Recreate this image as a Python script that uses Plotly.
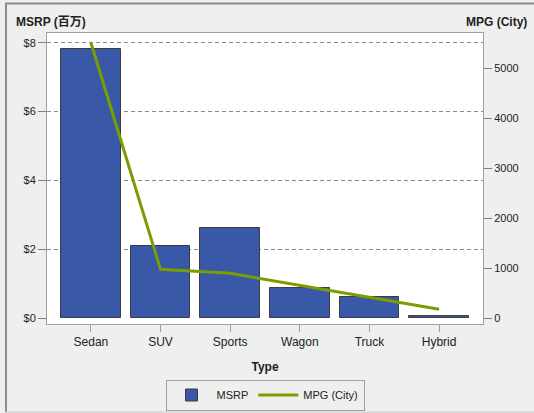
import plotly.graph_objects as go

# Vehicle types with average MSRP (millions) and summed city MPG
types = ["Sedan", "SUV", "Sports", "Wagon", "Truck", "Hybrid"]
msrp_millions = [7.81, 2.11, 2.62, 0.89, 0.63, 0.07]
mpg_city = [5510, 980, 900, 665, 420, 180]

msrp_ticks = [0, 2, 4, 6, 8]
msrp_tick_text = ["$0", "$2", "$4", "$6", "$8"]
mpg_ticks = [0, 1000, 2000, 3000, 4000, 5000]

W, H = 534, 413
ML, MR, MT, MB = 47, 51, 33, 89
PW, PH = W - ML - MR, H - MT - MB

def px_x(x):
    return (x - ML) / PW

def px_y(y):
    return 1 - (y - MT) / PH

FONT = "Liberation Sans, Noto Sans CJK JP, sans-serif"
AXIS_GREY = "#a0a0a0"

fig = go.Figure()
fig.add_trace(go.Bar(
    x=types, y=msrp_millions, name="MSRP", width=0.86,
    marker=dict(color="#3a58a8", line=dict(color="#3c3c3c", width=1)),
    yaxis="y",
))
fig.add_trace(go.Scatter(
    x=types, y=mpg_city, name="MPG (City)", mode="lines",
    line=dict(color="#7a9e02", width=3),
    yaxis="y2",
))

fig.update_layout(
    width=W, height=H,
    margin=dict(l=ML, r=MR, t=MT, b=MB, pad=0, autoexpand=False),
    paper_bgcolor="#efefef",
    plot_bgcolor="white",
    font=dict(family=FONT, size=11, color="#222"),
    bargap=0,
    xaxis=dict(
        range=[-0.63, 5.63], showgrid=False,
        ticks="outside", ticklen=7, tickcolor=AXIS_GREY,
        showline=True, linecolor=AXIS_GREY, mirror=True,
        tickfont=dict(size=12),
        title=dict(text="<b>Type</b>", font=dict(size=12), standoff=14),
    ),
    yaxis=dict(
        range=[-0.165, 8.28], tickvals=msrp_ticks, ticktext=msrp_tick_text,
        ticks="outside", ticklen=8, tickcolor="#808080",
        showgrid=True, gridcolor="#8a8a8a", griddash="4px,3px", gridwidth=1,
        zeroline=True, zerolinecolor="rgba(0,0,0,0)",
        showline=True, linecolor=AXIS_GREY,
        tickfont=dict(size=11),
    ),
    yaxis2=dict(
        overlaying="y", side="right",
        range=[-114, 5706], tickvals=mpg_ticks,
        ticks="outside", ticklen=8, tickcolor="#808080",
        showgrid=False, zeroline=False,
        showline=True, linecolor=AXIS_GREY,
        tickfont=dict(size=11),
    ),
    showlegend=True,
    legend=dict(
        orientation="h", x=0.5, xanchor="center",
        y=px_y(395), yanchor="middle",
        bgcolor="#efefef", bordercolor=AXIS_GREY, borderwidth=1,
        font=dict(size=11), itemwidth=40,
    ),
    annotations=[
        dict(text="<b>MSRP (百万)</b>", x=px_x(14), y=px_y(22),
             xref="paper", yref="paper", xanchor="left", yanchor="middle",
             showarrow=False, font=dict(size=12)),
        dict(text="<b>MPG (City)</b>", x=px_x(529), y=px_y(22),
             xref="paper", yref="paper", xanchor="right", yanchor="middle",
             showarrow=False, font=dict(size=12)),
    ],
    shapes=[
        dict(type="line", xref="paper", yref="paper",
             x0=px_x(6), x1=px_x(6), y0=px_y(3), y1=px_y(412),
             line=dict(color="#8c8c8c", width=2)),
        dict(type="line", xref="paper", yref="paper",
             x0=px_x(5), x1=px_x(534), y0=px_y(3.5), y1=px_y(3.5),
             line=dict(color="#8c8c8c", width=2)),
        dict(type="line", xref="paper", yref="paper",
             x0=px_x(5), x1=px_x(534), y0=px_y(412), y1=px_y(412),
             line=dict(color="#c8c8c8", width=1)),
    ],
)

fig.write_html("out.html")
